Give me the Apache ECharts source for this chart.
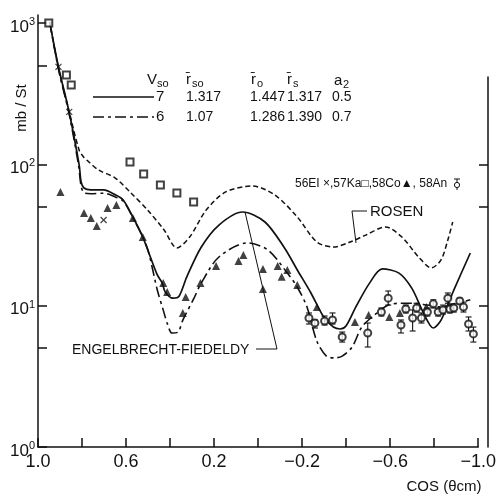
<!DOCTYPE html>
<html><head><meta charset="utf-8">
<script src="https://cdn.jsdelivr.net/npm/echarts@6/dist/echarts.min.js"></script>
<style>html,body{margin:0;padding:0;background:#fff}#c{width:499px;height:494px}</style>
</head><body><div id="c"></div>
<script>
// ---- tick labels ----
const xTickLabels = [1.0, 0.6, 0.2, -0.2, -0.6, -1.0];
const yLabelValues = [1, 10, 100, 1000];
const yTickValues = [1, 5, 10, 50, 100, 500, 1000];
const yRightTickValues = [5, 10, 50, 100];

// ---- curve Vso=7 (solid) ----
const cos7 = [0.947, 0.907, 0.858, 0.813, 0.804, 0.791, 0.76, 0.702, 0.649, 0.613, 0.569, 0.524, 0.498, 0.458, 0.436, 0.422, 0.387, 0.36, 0.324, 0.258, 0.178, 0.071, -0.031, -0.12, -0.178, -0.24, -0.298, -0.342, -0.373, -0.40, -0.444, -0.507, -0.564, -0.64, -0.698, -0.751, -0.796, -0.831, -0.889, -0.964];
const val7 = [1018, 490, 232, 99, 75, 68, 66, 65.9, 61, 56, 42.4, 30.6, 24.0, 16.5, 14.5, 12.5, 11.3, 11.6, 16.0, 26, 37.2, 46, 39.1, 25.6, 17.9, 12.3, 8.3, 7.06, 6.84, 7.2, 9.8, 14.5, 18.2, 17.0, 13.3, 8.9, 6.95, 7.9, 12.9, 23.6];

// ---- curve Vso=6 (long dash) ----
const cos6 = [0.947, 0.907, 0.858, 0.816, 0.804, 0.791, 0.76, 0.702, 0.649, 0.613, 0.569, 0.524, 0.498, 0.458, 0.431, 0.413, 0.391, 0.364, 0.342, 0.289, 0.258, 0.178, 0.049, -0.044, -0.133, -0.178, -0.222, -0.267, -0.31, -0.347, -0.382, -0.427, -0.471, -0.529, -0.591, -0.649, -0.707, -0.769, -0.827, -0.902, -0.964];
const val6 = [1018, 470, 225, 99, 70, 63, 62, 62.5, 58.8, 55, 42, 30.6, 24, 12.9, 9.3, 7.5, 6.4, 6.5, 7.9, 11.5, 14.5, 22.1, 27.8, 24.8, 17.0, 13.5, 9.8, 5.6, 4.4, 4.27, 4.4, 5.1, 7.06, 8.6, 10.1, 10.4, 10.4, 10.1, 9.8, 10.4, 11.0];

// ---- Rosen (short dash) ----
const cosR = [0.947, 0.907, 0.858, 0.813, 0.791, 0.769, 0.724, 0.649, 0.578, 0.502, 0.427, 0.369, 0.311, 0.236, 0.147, 0.027, -0.076, -0.178, -0.267, -0.342, -0.418, -0.489, -0.578, -0.653, -0.729, -0.787, -0.831, -0.862, -0.884];
const valR = [1018, 480, 235, 126, 112, 104, 91, 80, 62.8, 47.5, 34.3, 25.6, 30.6, 47.5, 63.8, 70.3, 60.7, 42.4, 28.2, 26.0, 28.2, 31.6, 36.1, 30.6, 22.1, 18.5, 21.1, 29.2, 39.1];

// ---- 57Ka squares ----
const kaCos = [0.951, 0.871, 0.849, 0.582, 0.520, 0.444, 0.369, 0.293];
const kaVal = [1000, 429, 365, 104, 85.5, 71.5, 62.8, 54.2];

// ---- 56Ei crosses ----
const eiCos = [0.907, 0.858, 0.702];
const eiVal = [489, 235, 40.4];

// ---- 58Co triangles ----
const coCos = [0.898, 0.791, 0.760, 0.733, 0.684, 0.644, 0.569, 0.524, 0.431, 0.413, 0.329, 0.342, 0.262, 0.191, 0.089, 0.067, -0.022, -0.022, -0.089, -0.133, -0.107, -0.178, -0.267, -0.440, -0.502, -0.596, -0.644, -0.764];
const coVal = [63.8, 45.3, 41.8, 36.6, 49.1, 51.6, 41.8, 30.6, 14.5, 12.5, 11.5, 8.88, 14.5, 19.1, 20.7, 22.8, 18.2, 13.1, 19.1, 17.9, 16.0, 14.0, 9.79, 7.67, 8.59, 8.32, 8.88, 9.79];

// ---- 58An circles with error bars ----
const anCos = [-0.231, -0.258, -0.302, -0.338, -0.382, -0.498, -0.560, -0.591, -0.649, -0.671, -0.702, -0.720, -0.742, -0.769, -0.796, -0.818, -0.840, -0.862, -0.871, -0.889, -0.916, -0.933, -0.956, -0.978];
const anVal = [8.18, 7.54, 7.79, 7.92, 6.00, 6.41, 9.02, 11.3, 7.30, 9.48, 8.18, 9.63, 8.18, 9.02, 10.3, 9.02, 9.33, 11.3, 9.48, 9.63, 10.8, 9.79, 7.42, 6.31];
const anLo  = [7.42, 6.95, 7.30, 7.42, 5.53, 5.10, 8.45, 10.1, 6.41, 8.88, 6.62, 9.02, 7.54, 8.45, 9.63, 8.45, 8.73, 10.4, 8.88, 9.02, 10.3, 9.02, 6.62, 5.53];
const anHi  = [8.88, 7.92, 8.45, 8.88, 6.51, 7.54, 9.63, 12.7, 7.92, 10.1, 9.33, 10.4, 8.88, 9.63, 11.0, 9.63, 10.1, 12.3, 10.1, 10.3, 11.3, 10.6, 8.32, 7.06];

const zip = (a, b) => a.map((v, i) => [v, b[i]]);
const FONT = 'Liberation Sans';
const BLACK = '#111';

const chart = echarts.init(document.getElementById('c'), null, {renderer: 'canvas'});

const txt = (x, y, s, size, extra) => Object.assign({
  type: 'text', x: x, y: y,
  style: {text: s, fill: BLACK, font: size + 'px "' + FONT + '"', textVerticalAlign: 'middle'}
}, extra || {});

const graphics = [
  // header
  txt(147, 80, 'V', 15), txt(157, 84, 'so', 11),
  txt(186, 80, 'r\u0304', 15), txt(192, 84, 'so', 11),
  txt(251, 80, 'r\u0304', 15), txt(257, 84, 'o', 11),
  txt(287, 80, 'r\u0304', 15), txt(293, 84, 's', 11),
  txt(334, 81, 'a', 15), txt(343, 85, '2', 11),
  // rows
  txt(156, 97, '7', 15), txt(186, 97, '1.317', 14), txt(250, 97, '1.447', 14), txt(287, 97, '1.317', 14), txt(332, 97, '0.5', 14),
  txt(156, 117, '6', 15), txt(186, 117, '1.07', 14), txt(250, 117, '1.286', 14), txt(287, 117, '1.390', 14), txt(332, 117, '0.7', 14),
  {type: 'line', shape: {x1: 93, y1: 97, x2: 154, y2: 97}, style: {stroke: BLACK, lineWidth: 1.6}},
  {type: 'line', shape: {x1: 93, y1: 117, x2: 154, y2: 117}, style: {stroke: BLACK, lineWidth: 1.6, lineDash: [11, 4, 3, 4]}},
  // data key
  txt(295, 184, '56EI \u00d7,57Ka\u25a1,58Co\u25b2, 58An', 12),
  {type: 'circle', shape: {cx: 457, cy: 185, r: 2.6}, style: {fill: '#fff', stroke: BLACK, lineWidth: 1}},
  {type: 'line', shape: {x1: 457, y1: 179, x2: 457, y2: 182.4}, style: {stroke: BLACK, lineWidth: 1}},
  {type: 'line', shape: {x1: 457, y1: 187.6, x2: 457, y2: 190}, style: {stroke: BLACK, lineWidth: 1}},
  {type: 'line', shape: {x1: 454, y1: 179, x2: 460, y2: 179}, style: {stroke: BLACK, lineWidth: 1}},
  // ROSEN
  txt(370, 212, 'ROSEN', 15),
  {type: 'polyline', shape: {points: [[367, 211], [352, 211], [356, 243]]}, style: {stroke: BLACK, lineWidth: 1, fill: null}},
  // Engelbrecht
  txt(72, 350, 'ENGELBRECHT-FIEDELDY', 14),
  {type: 'polyline', shape: {points: [[256, 349], [277, 349], [245, 212]]}, style: {stroke: BLACK, lineWidth: 1, fill: null}},
  // axis names
  txt(22, 108, 'mb / St', 15, {rotation: Math.PI / 2, style: {text: 'mb / St', fill: BLACK, font: '15px "' + FONT + '"', textAlign: 'center', textVerticalAlign: 'middle'}}),
  txt(444, 487, 'COS (\u03b8cm)', 15, {style: {text: 'COS (\u03b8cm)', fill: BLACK, font: '15px "' + FONT + '"', textAlign: 'center', textVerticalAlign: 'middle'}})
];

const axisLineStyle = {color: BLACK, width: 1.5};

const option = {
  backgroundColor: '#fff',
  animation: false,
  grid: [
    {left: 38, right: 11, top: 15, bottom: 47},
    {left: 38, right: 11, top: 77, bottom: 47}
  ],
  xAxis: [
    {
      type: 'value', gridIndex: 0, min: -1, max: 1, interval: 0.2, inverse: true,
      axisLine: {show: true, onZero: false, lineStyle: axisLineStyle},
      axisTick: {show: true, inside: true, length: 9, lineStyle: axisLineStyle},
      axisLabel: {
        customValues: xTickLabels, margin: 6, color: BLACK, fontFamily: FONT, fontSize: 18,
        formatter: v => (v < 0 ? '\u2212' : '') + Math.abs(v).toFixed(1)
      },
      splitLine: {show: false}
    },
    {type: 'value', gridIndex: 1, min: -1, max: 1, inverse: true, show: false,
      axisLine: {onZero: false}}
  ],
  yAxis: [
    {
      type: 'log', logBase: 10, gridIndex: 0, position: 'left', min: 1, max: 1140,
      axisLine: {show: true, onZero: false, lineStyle: axisLineStyle},
      axisTick: {show: true, inside: true, length: 9, customValues: yTickValues, lineStyle: axisLineStyle},
      axisLabel: {
        customValues: yLabelValues, margin: 3, color: BLACK, fontFamily: FONT,
        formatter: v => '{b|10}{s|' + Math.round(Math.log10(v)) + '}',
        rich: {
          b: {fontSize: 17, fontFamily: FONT, color: BLACK, padding: [8, 0, 0, 0]},
          s: {fontSize: 11, fontFamily: FONT, color: BLACK, padding: [0, 0, 2, 0]}
        }
      },
      splitLine: {show: false}
    },
    {
      type: 'log', logBase: 10, gridIndex: 1, position: 'right', min: 1, max: 415.5,
      axisLine: {show: true, onZero: false, lineStyle: axisLineStyle},
      axisTick: {show: true, inside: true, length: 9, customValues: yRightTickValues, lineStyle: axisLineStyle},
      axisLabel: {show: false},
      splitLine: {show: false}
    }
  ],
  series: [
    {type: 'line', name: 'Vso7', data: zip(cos7, val7), smooth: 0.3, symbol: 'none', clip: true,
      lineStyle: {color: BLACK, width: 1.7}},
    {type: 'line', name: 'Vso6', data: zip(cos6, val6), smooth: 0.3, symbol: 'none', clip: true,
      lineStyle: {color: BLACK, width: 1.6, type: [11, 4, 3, 4]}},
    {type: 'line', name: 'Rosen', data: zip(cosR, valR), smooth: 0.3, symbol: 'none', clip: true,
      lineStyle: {color: BLACK, width: 1.5, type: [5, 3]}},
    {type: 'scatter', name: '57Ka', data: zip(kaCos, kaVal), symbol: 'emptyRect', symbolSize: 7,
      itemStyle: {color: BLACK, borderWidth: 1.2}, z: 4},
    {type: 'scatter', name: '56Ei', data: zip(eiCos, eiVal), symbol: 'path://M0,0L10,10M10,0L0,10', symbolSize: 6,
      itemStyle: {color: 'none', borderColor: BLACK, borderWidth: 1.2}, z: 4},
    {type: 'scatter', name: '58Co', data: zip(coCos, coVal), symbol: 'triangle', symbolSize: 8,
      itemStyle: {color: BLACK}, z: 4},
    {type: 'custom', name: '58An err', data: anCos.map((c, i) => [c, anLo[i], anHi[i]]),
      encode: {x: 0, y: [1, 2]}, z: 3,
      renderItem: (params, api) => {
        const x = api.value(0);
        const top = api.coord([x, api.value(2)]);
        const bot = api.coord([x, api.value(1)]);
        const w = 3;
        const st = {stroke: BLACK, lineWidth: 1.1};
        return {type: 'group', children: [
          {type: 'line', shape: {x1: top[0], y1: top[1], x2: bot[0], y2: bot[1]}, style: st},
          {type: 'line', shape: {x1: top[0] - w, y1: top[1], x2: top[0] + w, y2: top[1]}, style: st},
          {type: 'line', shape: {x1: bot[0] - w, y1: bot[1], x2: bot[0] + w, y2: bot[1]}, style: st}
        ]};
      }},
    {type: 'scatter', name: '58An', data: zip(anCos, anVal), symbol: 'emptyCircle', symbolSize: 7,
      itemStyle: {color: BLACK, borderWidth: 1.2}, z: 5}
  ],
  graphic: graphics
};
chart.setOption(option);
</script></body></html>
